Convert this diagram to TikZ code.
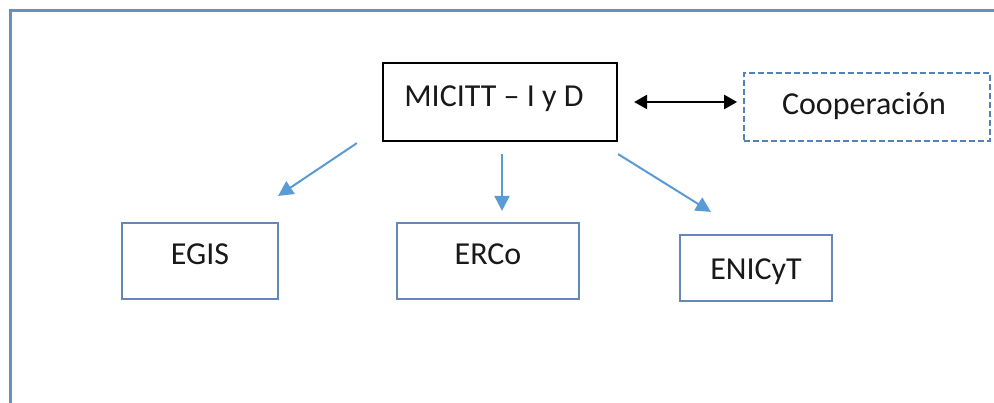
\documentclass[tikz,border=0pt]{standalone}
\usepackage{fontspec}
\setmainfont{Carlito}
\usetikzlibrary{arrows.meta}
\definecolor{framecol}{RGB}{108,142,190}
\definecolor{boxcol}{RGB}{100,136,186}
\definecolor{arrcol}{RGB}{91,155,213}
\definecolor{dashcol}{RGB}{84,130,182}
\definecolor{txtcol}{RGB}{25,25,25}
\tikzset{
  every node/.style={font=\fontsize{32}{38}\selectfont, text=txtcol, inner sep=0pt},
  bluebox/.style={draw=boxcol, line width=2.2pt, rectangle},
  blackbox/.style={draw=black, line width=2.2pt, rectangle},
  dashbox/.style={draw=dashcol, line width=1.8pt, dash pattern=on 6pt off 3pt, rectangle},
  bluearr/.style={draw=arrcol, line width=2pt, -{Triangle[length=15pt,width=15pt]}},
  blackarr/.style={draw=black, line width=2.4pt, {Triangle[length=13pt,width=14pt]}-{Triangle[length=13pt,width=14pt]}}
}
\begin{document}
\begin{tikzpicture}[x=1pt,y=-1pt]
\useasboundingbox (0,0) rectangle (994,403);
\clip (0,0) rectangle (994,403);
\fill[white] (0,0) rectangle (994,403);
% outer frame
\draw[framecol, line width=3pt] (10,420) -- (10,11) -- (1010,11);
% nodes
\node[blackbox, minimum width=234pt, minimum height=78pt, text height=21pt, text depth=12pt] (micitt) at (500,102) {\hspace*{-12pt}MICITT -- I y D};
\node[dashbox, minimum width=246pt, minimum height=68pt, text height=21pt, text depth=6pt] (coop) at (867,107) {\hspace*{-6pt}Cooperación};
\node[bluebox, minimum width=156pt, minimum height=76pt, text height=21pt, text depth=14pt] (egis) at (200,261) {EGIS};
\node[bluebox, minimum width=182pt, minimum height=76pt, text height=21pt, text depth=14pt] (erco) at (488,261) {ERCo};
\node[bluebox, minimum width=152pt, minimum height=66pt, text height=26pt, text depth=3pt] (enicyt) at (756,268) {ENICyT};
% connectors
\draw[bluearr] ([shift={(-25,1)}]micitt.south west) -- ([shift={(-1,-26)}]egis.north east);
\draw[bluearr] ([shift={(2,12)}]micitt.south) -- ([shift={(14,-11)}]erco.north);
\draw[bluearr] ([shift={(0,12)}]micitt.south east) -- ([shift={(32,-22)}]enicyt.north west);
\draw[blackarr] ([shift={(16,0)}]micitt.east) -- ([shift={(-6,-5)}]coop.west);
\end{tikzpicture}
\end{document}
